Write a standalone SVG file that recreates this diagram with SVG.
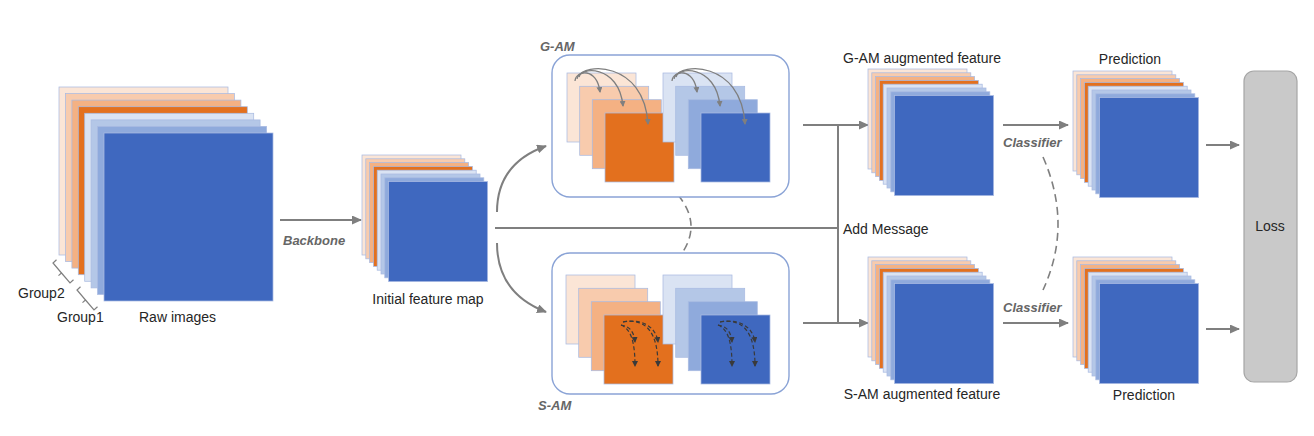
<svg xmlns="http://www.w3.org/2000/svg" xmlns:xlink="http://www.w3.org/1999/xlink" width="1314" height="436" viewBox="0 0 1314 436">
<style>
  rect.l { stroke: #A9BBE2; stroke-width: 0.75; }
  .c1 { fill: #FBE5D6; }
  .c2 { fill: #F8CBAD; }
  .c3 { fill: #F4B183; }
  .c4 { fill: #E3701E; }
  .c5 { fill: #DAE3F3; }
  .c6 { fill: #B4C7E7; }
  .c7 { fill: #8FAADC; }
  .c8 { fill: #3F68BF; }
  .lbl { font-family: "Liberation Sans", Arial, sans-serif; font-size: 14px; fill: #262626; }
  .ital { font-family: "Liberation Sans", Arial, sans-serif; font-size: 13px; font-weight: bold; font-style: italic; fill: #666666; }
  .conn { fill: none; stroke: #7F7F7F; stroke-width: 2; }
  .dash { fill: none; stroke: #7F7F7F; stroke-width: 1.6; stroke-dasharray: 8 5; }
  .box { fill: #FFFFFF; stroke: #8AA3D6; stroke-width: 1.4; }
  .garc { fill: none; stroke: #7F7F7F; stroke-width: 1.3; }
  .sarc { fill: none; stroke: #3A3A3A; stroke-width: 1.2; stroke-dasharray: 4 2.5; }
  .brace { fill: none; stroke: #7F7F7F; stroke-width: 1.2; }
</style>
<defs>
  <marker id="arr" markerUnits="userSpaceOnUse" markerWidth="10" markerHeight="9" refX="9" refY="4.5" orient="auto">
    <path d="M0,0 L10,4.5 L0,9 z" fill="#7F7F7F"/>
  </marker>
  <marker id="arrS" markerUnits="userSpaceOnUse" markerWidth="6" markerHeight="6" refX="5" refY="3" orient="auto">
    <path d="M0,0 L6,3 L0,6 z" fill="#7F7F7F"/>
  </marker>
  <marker id="arrD" markerUnits="userSpaceOnUse" markerWidth="6" markerHeight="6" refX="5" refY="3" orient="auto">
    <path d="M0,0 L6,3 L0,6 z" fill="#3A3A3A"/>
  </marker>
  <g id="stack8">
    <rect class="l c1" x="0" y="0" width="99" height="100"/>
    <rect class="l c2" x="3.8" y="3.8" width="99" height="100"/>
    <rect class="l c3" x="7.6" y="7.6" width="99" height="100"/>
    <rect class="l c4" x="11.4" y="11.4" width="99" height="100"/>
    <rect class="l c5" x="15.2" y="15.2" width="99" height="100"/>
    <rect class="l c6" x="19" y="19" width="99" height="100"/>
    <rect class="l c7" x="22.8" y="22.8" width="99" height="100"/>
    <rect class="l c8" x="26.6" y="26.6" width="99" height="100"/>
  </g>
  <g id="quadO">
    <rect class="l c1" x="0" y="0" width="69" height="69"/>
    <rect class="l c2" x="12.7" y="13.3" width="69" height="69"/>
    <rect class="l c3" x="25.3" y="26.7" width="69" height="69"/>
    <rect class="l c4" x="38" y="40" width="69" height="69"/>
  </g>
  <g id="quadB">
    <rect class="l c5" x="0" y="0" width="69" height="69"/>
    <rect class="l c6" x="12.7" y="13.3" width="69" height="69"/>
    <rect class="l c7" x="25.3" y="26.7" width="69" height="69"/>
    <rect class="l c8" x="38" y="40" width="69" height="69"/>
  </g>
  <g id="garcs">
    <path class="garc" d="M575,81 C576,70 597,67 600,92" marker-end="url(#arrS)"/>
    <path class="garc" d="M577,79 C579,66 619,64 623,106" marker-end="url(#arrS)"/>
    <path class="garc" d="M579,77 C582,63 644,60 648,124" marker-end="url(#arrS)"/>
  </g>
  <g id="sarcs">
    <path class="sarc" d="M621,325 C628,326 634,330 635,342" marker-end="url(#arrD)"/>
    <path class="sarc" d="M621,325 C631,329 635,342 635,366" marker-end="url(#arrD)"/>
    <path class="sarc" d="M623,322 C640,318 656,326 658,342" marker-end="url(#arrD)"/>
    <path class="sarc" d="M623,322 C646,318 658,332 658,366" marker-end="url(#arrD)"/>
  </g>
  <path id="braceShape" d="M56.5,259.8 L53,263 L61.5,273 L58.5,275.6 M61.5,273 L70,283 L73.5,279.8"/>
</defs>

<g id="connectors">
  <path class="conn" d="M280,220 L361,220" marker-end="url(#arr)"/>
  <path class="conn" d="M495,228 L838,228"/>
  <path class="conn" d="M497,212 C497,178 515,157 546,146" marker-end="url(#arr)"/>
  <path class="conn" d="M497,243 C497,277 515,300 546,312" marker-end="url(#arr)"/>
  <path class="conn" d="M803,125 L868,125" marker-end="url(#arr)"/>
  <path class="conn" d="M803,323 L868,323" marker-end="url(#arr)"/>
  <path class="conn" d="M838,125 L838,323"/>
  <path class="dash" d="M678,195 Q703,225 680,256"/>
  <path class="conn" d="M1003,125 L1068,125" marker-end="url(#arr)"/>
  <path class="conn" d="M1003,323 L1068,323" marker-end="url(#arr)"/>
  <path class="dash" d="M1043,157 Q1073,225 1043,290"/>
  <path class="conn" d="M1206,145 L1239,145" marker-end="url(#arr)"/>
  <path class="conn" d="M1206,329 L1239,329" marker-end="url(#arr)"/>
  <text class="ital" x="283" y="245">Backbone</text>
  <text class="ital" x="1003" y="147" font-size="12">Classifier</text>
  <text class="ital" x="1003" y="312" font-size="12">Classifier</text>
  <text class="lbl" x="843" y="234" font-size="13.5">Add Message</text>
</g>

<g id="raw-images">
  <rect class="l c1" x="59" y="87" width="169" height="168"/>
  <rect class="l c2" x="65.4" y="93.6" width="169" height="168"/>
  <rect class="l c3" x="71.9" y="100.1" width="169" height="168"/>
  <rect class="l c4" x="78.3" y="106.7" width="169" height="168"/>
  <rect class="l c5" x="84.7" y="113.3" width="169" height="168"/>
  <rect class="l c6" x="91.1" y="119.9" width="169" height="168"/>
  <rect class="l c7" x="97.6" y="126.4" width="169" height="168"/>
  <rect class="l c8" x="104" y="133" width="169" height="168"/>
  <use href="#braceShape" xlink:href="#braceShape" class="brace"/>
  <use href="#braceShape" xlink:href="#braceShape" class="brace" transform="translate(24,27)"/>
  <text class="lbl" x="18" y="298">Group2</text>
  <text class="lbl" x="57" y="322">Group1</text>
  <text class="lbl" x="139" y="322" font-size="13">Raw images</text>
</g>

<g id="initial-feature-map">
  <use href="#stack8" xlink:href="#stack8" x="362" y="155"/>
  <text class="lbl" x="428" y="304" text-anchor="middle">Initial feature map</text>
</g>

<g id="g-am">
  <rect class="box" x="552" y="55" width="237" height="142" rx="18"/>
  <use href="#quadO" xlink:href="#quadO" x="567" y="73"/>
  <use href="#quadB" xlink:href="#quadB" x="663" y="73"/>
  <use href="#garcs" xlink:href="#garcs"/>
  <use href="#garcs" xlink:href="#garcs" x="97"/>
  <text class="ital" x="540" y="51">G-AM</text>
</g>

<g id="s-am">
  <rect class="box" x="552" y="253" width="237" height="141" rx="18"/>
  <use href="#quadO" xlink:href="#quadO" x="566" y="275"/>
  <use href="#quadB" xlink:href="#quadB" x="663" y="275"/>
  <use href="#sarcs" xlink:href="#sarcs"/>
  <use href="#sarcs" xlink:href="#sarcs" x="97"/>
  <text class="ital" x="538" y="410">S-AM</text>
</g>

<g id="g-am-augmented-feature">
  <use href="#stack8" xlink:href="#stack8" x="868" y="69"/>
  <text class="lbl" x="922" y="63" text-anchor="middle">G-AM augmented feature</text>
</g>

<g id="s-am-augmented-feature">
  <use href="#stack8" xlink:href="#stack8" x="868" y="257"/>
  <text class="lbl" x="922" y="399" text-anchor="middle">S-AM augmented feature</text>
</g>

<g id="prediction-top">
  <use href="#stack8" xlink:href="#stack8" x="1073" y="71"/>
  <text class="lbl" x="1130" y="64" text-anchor="middle">Prediction</text>
</g>

<g id="prediction-bottom">
  <use href="#stack8" xlink:href="#stack8" x="1073" y="257"/>
  <text class="lbl" x="1144" y="400" text-anchor="middle">Prediction</text>
</g>

<g id="loss">
  <rect x="1244" y="71" width="53" height="311" rx="10" fill="#C9C9C9" stroke="#A6A6A6" stroke-width="1.2"/>
  <text class="lbl" x="1270" y="231" text-anchor="middle" font-size="13">Loss</text>
</g>
</svg>
